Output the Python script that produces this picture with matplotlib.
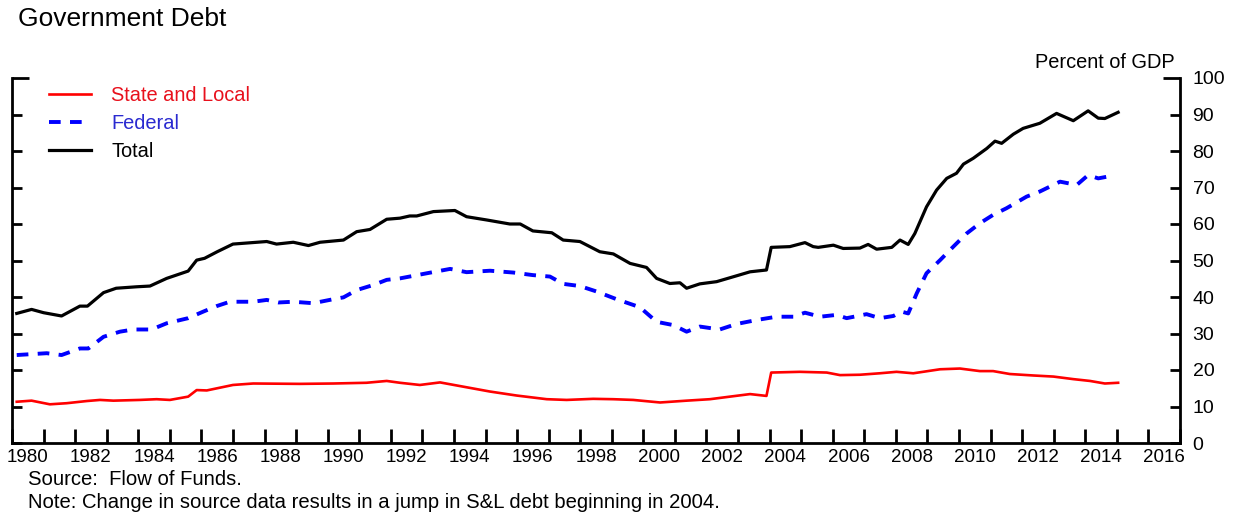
import matplotlib
matplotlib.use("Agg")
import matplotlib.pyplot as plt
from matplotlib.ticker import FixedLocator, NullFormatter, FixedFormatter

plt.rcParams['font.family'] = ['Liberation Sans', 'DejaVu Sans']

# ---- data (percent of GDP) ----
total_years = [1980.15, 1980.62, 1981.0, 1981.57, 1982.15, 1982.39, 1982.9, 1983.3, 1983.95,
               1984.37, 1984.9, 1985.58, 1985.85, 1986.1, 1986.5, 1987.0, 1988.07, 1988.38,
               1988.91, 1989.39, 1989.76, 1990.5, 1990.92, 1991.34, 1991.87, 1992.29, 1992.6,
               1992.82, 1993.35, 1994.03, 1994.4, 1995.04, 1995.77, 1996.1, 1996.5, 1997.1,
               1997.46, 1997.99, 1998.62, 1999.05, 1999.58, 2000.1, 2000.42, 2000.84, 2001.16,
               2001.37, 2001.79, 2002.32, 2002.95, 2003.38, 2003.9, 2004.05, 2004.64, 2005.12,
               2005.38, 2005.54, 2006.02, 2006.33, 2006.86, 2007.12, 2007.39, 2007.87, 2008.13,
               2008.39, 2008.6, 2008.97, 2009.29, 2009.61, 2009.92, 2010.14, 2010.45, 2010.88,
               2011.14, 2011.35, 2011.72, 2012.03, 2012.56, 2013.09, 2013.62, 2014.09, 2014.41,
               2014.62, 2015.04]
total_vals = [35.5, 36.6, 35.7, 34.8, 37.5, 37.5, 41.2, 42.4, 42.8,
              43.0, 45.1, 47.1, 50.1, 50.6, 52.4, 54.5, 55.2, 54.5,
              55.0, 54.1, 55.0, 55.6, 57.9, 58.5, 61.3, 61.6, 62.2,
              62.2, 63.4, 63.7, 62.0, 61.1, 60.0, 60.0, 58.1, 57.6,
              55.6, 55.2, 52.4, 51.8, 49.2, 48.1, 45.1, 43.7, 43.9,
              42.4, 43.6, 44.2, 45.8, 46.9, 47.4, 53.6, 53.8, 54.9,
              53.8, 53.6, 54.2, 53.3, 53.4, 54.4, 53.1, 53.6, 55.6,
              54.4, 57.4, 64.7, 69.3, 72.5, 73.9, 76.4, 78.0, 80.7,
              82.7, 82.1, 84.6, 86.2, 87.6, 90.3, 88.3, 91.0, 89.0,
              88.9, 90.6]

federal_years = [1980.15, 1981.1, 1981.57, 1982.15, 1982.42, 1982.9, 1983.42, 1983.84, 1984.42,
                 1984.9, 1985.58, 1986.06, 1986.48, 1986.9, 1987.64, 1988.07, 1988.44, 1988.91,
                 1989.54, 1990.18, 1990.5, 1990.92, 1991.45, 1991.87, 1992.29, 1993.14, 1993.88,
                 1994.4, 1995.14, 1995.88, 1996.5, 1997.04, 1997.46, 1997.99, 1998.52, 1999.15,
                 1999.89, 2000.42, 2000.95, 2001.37, 2001.79, 2002.42, 2002.95, 2003.59, 2004.22,
                 2004.75, 2005.12, 2005.6, 2006.12, 2006.44, 2007.07, 2007.49, 2007.92, 2008.18,
                 2008.39, 2008.66, 2008.97, 2009.4, 2009.82, 2010.24, 2010.66, 2011.08, 2011.5,
                 2012.14, 2012.56, 2013.2, 2013.73, 2014.09, 2014.41, 2014.9]
federal_vals = [24.1, 24.6, 24.1, 25.9, 25.9, 29.1, 30.5, 31.1, 31.1,
                32.8, 34.2, 36.0, 37.5, 38.7, 38.7, 39.2, 38.5, 38.7,
                38.3, 39.4, 39.9, 41.9, 43.3, 44.7, 45.1, 46.5, 47.7,
                46.8, 47.2, 46.7, 46.0, 45.6, 43.6, 43.0, 41.5, 39.4,
                37.2, 33.2, 32.3, 30.5, 31.9, 31.1, 32.6, 33.7, 34.6,
                34.6, 35.7, 34.6, 35.1, 34.2, 35.3, 34.2, 34.8, 36.0,
                35.5, 41.0, 46.5, 50.1, 53.8, 57.4, 60.2, 62.5, 64.3,
                67.5, 68.9, 71.6, 70.7, 73.4, 72.5, 73.3]

sl_years = [1980.15, 1980.62, 1981.2, 1981.73, 1982.37, 1982.79, 1983.21, 1984.05, 1984.58,
            1985.0, 1985.58, 1985.85, 1986.17, 1987.0, 1987.64, 1989.12, 1990.18, 1991.23,
            1991.87, 1992.29, 1992.92, 1993.56, 1994.19, 1995.14, 1995.99, 1996.94, 1997.57,
            1998.41, 1999.05, 1999.68, 2000.53, 2001.37, 2002.11, 2002.74, 2003.38, 2003.9,
            2004.05, 2004.96, 2005.81, 2006.23, 2006.86, 2007.49, 2008.02, 2008.55, 2009.4,
            2010.03, 2010.66, 2011.08, 2011.61, 2012.35, 2012.99, 2013.62, 2014.15, 2014.62,
            2015.04]
sl_vals = [11.3, 11.6, 10.6, 10.9, 11.5, 11.8, 11.6, 11.8, 12.0,
           11.8, 12.7, 14.5, 14.4, 15.9, 16.3, 16.2, 16.3, 16.5,
           17.0, 16.5, 15.9, 16.6, 15.6, 14.1, 13.0, 12.0, 11.8,
           12.1, 12.0, 11.8, 11.1, 11.6, 12.0, 12.7, 13.4, 12.9,
           19.3, 19.5, 19.3, 18.6, 18.7, 19.1, 19.5, 19.1, 20.2,
           20.4, 19.7, 19.7, 18.9, 18.5, 18.2, 17.5, 17.0, 16.3,
           16.5]

year_ticks = list(range(1980, 2018))
year_labels = [str(y) for y in range(1980, 2017, 2)]
y_ticks = [0, 10, 20, 30, 40, 50, 60, 70, 80, 90]
y_top = 100

# ---- figure ----
fig = plt.figure(figsize=(12.38, 5.14), dpi=100)
ax = fig.add_axes([12 / 1238, 1 - 443 / 514, (1180 - 12) / 1238, (443 - 78) / 514])

ax.plot(sl_years, sl_vals, color='#FF0000', lw=1.9, label='State and Local', zorder=3)
ax.plot(federal_years, federal_vals, color='#0000FF', lw=2.8, dashes=(3.0, 2.4),
        label='Federal', zorder=3)
ax.plot(total_years, total_vals, color='black', lw=2.3, label='Total', zorder=4)

ax.set_xlim(1980, 2017)
ax.set_ylim(0, 100)

for s in ['left', 'right', 'bottom']:
    ax.spines[s].set_linewidth(2.0)
ax.spines['top'].set_visible(False)

# x axis: yearly inward ticks, labels centered in the 2-year slots
ax.xaxis.set_major_locator(FixedLocator(year_ticks))
ax.xaxis.set_major_formatter(NullFormatter())
ax.xaxis.set_minor_locator(FixedLocator([int(l) + 0.5 for l in year_labels]))
ax.xaxis.set_minor_formatter(FixedFormatter(year_labels))
ax.tick_params(axis='x', which='major', direction='in', length=10, width=2.0)
ax.tick_params(axis='x', which='minor', length=0, pad=4, labelsize=13.5)

# y axis: ticks both sides inward, labels at right
ax.yaxis.set_major_locator(FixedLocator(y_ticks))
ax.yaxis.set_minor_locator(FixedLocator([y_top]))
ax.yaxis.set_major_formatter(FixedFormatter([str(v) for v in y_ticks]))
ax.yaxis.set_minor_formatter(FixedFormatter([str(y_top)]))
ax.tick_params(axis='y', which='major', direction='in', length=7.5, width=2.0,
               left=True, right=True, labelleft=False, labelright=True,
               pad=9, labelsize=14)
ax.tick_params(axis='y', which='minor', direction='in', length=12.5, width=2.0,
               left=True, right=True, labelleft=False, labelright=True,
               pad=9, labelsize=14)

leg = ax.legend(loc='upper left', bbox_to_anchor=((49 - 12) / 1168, 0.978),
                frameon=False, fontsize=14.4, handlelength=2.1, handletextpad=1.0,
                labelspacing=0.44, borderpad=0, borderaxespad=0,
                labelcolor=['#E8101C', '#2A2AD0', 'black'])

fig.text(18 / 1238, 1 - 19 / 514, 'Government Debt', fontsize=19, va='center', ha='left')
fig.text(1175 / 1238, 1 - 62 / 514, 'Percent of GDP', fontsize=14.4, va='center', ha='right')
fig.text(28 / 1238, 1 - 485 / 514, 'Source:  Flow of Funds.', fontsize=14.6,
         va='baseline', ha='left')
fig.text(28 / 1238, 1 - 508 / 514,
         'Note: Change in source data results in a jump in S&L debt beginning in 2004.',
         fontsize=14.6, va='baseline', ha='left')

fig.savefig('out.png', dpi=100)
